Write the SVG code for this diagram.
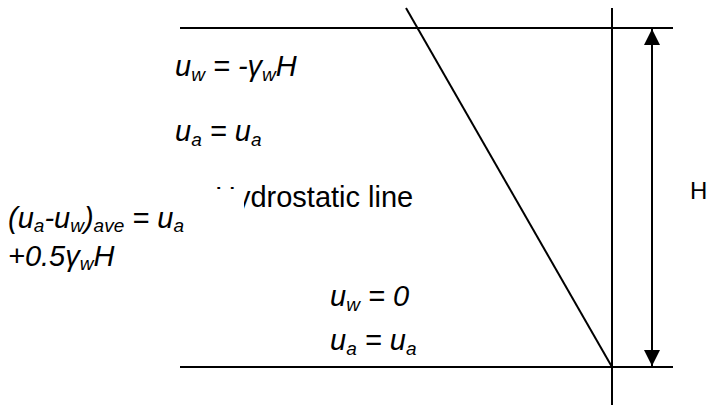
<svg xmlns="http://www.w3.org/2000/svg" width="709" height="408" viewBox="0 0 709 408">
<style>
.ln{stroke:#000;stroke-width:2;fill:none}
.t{font-family:"Liberation Sans",Arial,sans-serif;fill:#000}
.i{font-style:italic;font-size:29px}
.s{font-size:19px}
</style>
<defs>
<marker id="ah" viewBox="0 0 16 16" refX="16" refY="8" markerWidth="16" markerHeight="16" markerUnits="userSpaceOnUse" orient="auto">
<path d="M0,0 L16,8 L0,16 Z" fill="#000"/>
</marker>
</defs>
<rect width="709" height="408" fill="#fff"/>
<g id="connectors">
<line class="ln" x1="180" y1="28" x2="673" y2="28"/>
<line class="ln" x1="180" y1="367" x2="673" y2="367"/>
<line class="ln" x1="612" y1="8" x2="612" y2="405"/>
<line class="ln" x1="406" y1="8" x2="612" y2="367"/>
<line class="ln" x1="652" y1="200" x2="652" y2="29" marker-end="url(#ah)"/>
<line class="ln" x1="652" y1="200" x2="652" y2="366" marker-end="url(#ah)"/>
</g>
<g id="top-labels">
<text class="t i" x="175" y="76">u<tspan class="s" dy="5">w</tspan><tspan dy="-5"> = -γ</tspan><tspan class="s" dy="5">w</tspan><tspan dy="-5">H</tspan></text>
<text class="t i" x="175" y="141">u<tspan class="s" dy="5">a</tspan><tspan dy="-5"> = u</tspan><tspan class="s" dy="5">a</tspan></text>
</g>
<g id="hydrostatic-label">
<text class="t" x="215" y="207" style="font-size:29px">Hydrostatic line</text>
</g>
<g id="average-label">
<rect x="0" y="189" width="244" height="84" fill="#fff"/>
<text class="t i" x="8" y="228">(u<tspan class="s" dy="4">a</tspan><tspan dy="-4">-u</tspan><tspan class="s" dy="4">w</tspan><tspan dy="-4">)</tspan><tspan class="s" dy="4">ave</tspan><tspan dy="-4"> = u</tspan><tspan class="s" dy="4">a</tspan></text>
<text class="t i" x="8" y="266">+0.5γ<tspan class="s" dy="4">w</tspan><tspan dy="-4">H</tspan></text>
</g>
<g id="bottom-labels">
<text class="t i" x="330" y="306">u<tspan class="s" dy="5">w</tspan><tspan dy="-5"> = 0</tspan></text>
<text class="t i" x="330" y="350">u<tspan class="s" dy="5">a</tspan><tspan dy="-5"> = u</tspan><tspan class="s" dy="5">a</tspan></text>
</g>
<g id="height-label">
<text class="t" x="690" y="199" style="font-size:24px">H</text>
</g>
</svg>
